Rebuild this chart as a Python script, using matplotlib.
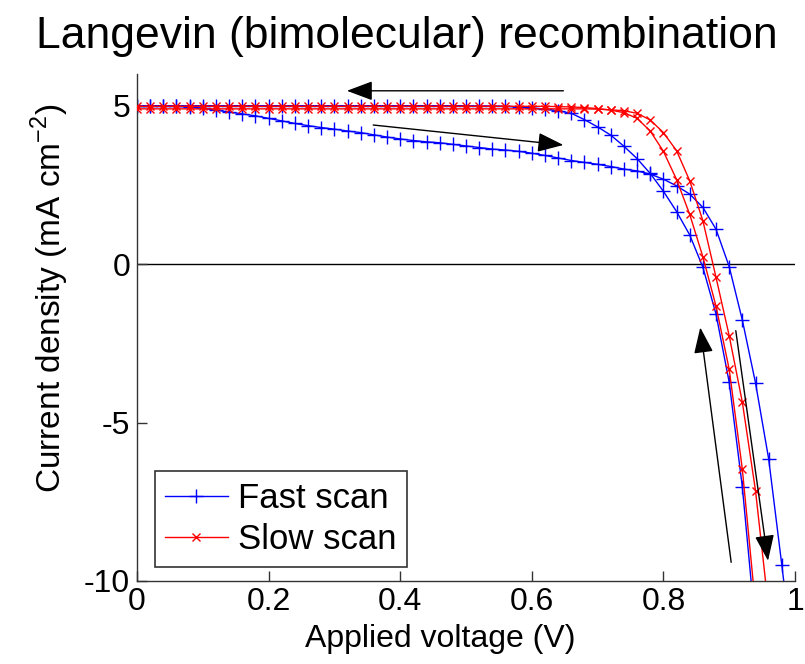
import matplotlib
matplotlib.use("Agg")
import matplotlib.pyplot as plt
import numpy as np

plt.rcParams['font.family'] = ['Liberation Sans', 'DejaVu Sans']

# ---------------- data ----------------
title_text = "Langevin (bimolecular) recombination"
xlabel_text = "Applied voltage (V)"
ylabel_text = r"Current density (mA cm$^{\mathregular{-2}}$)"
legend_labels = ["Fast scan", "Slow scan"]

x_ticks = [0, 0.2, 0.4, 0.6, 0.8, 1.0]
x_ticklabels = ["0", "0.2", "0.4", "0.6", "0.8", "1"]
y_ticks = [-10, -5, 0, 5]
y_ticklabels = ["-10", "-5", "0", "5"]

# voltage grid (V), 0.02 V steps
voltage = [0.00, 0.02, 0.04, 0.06, 0.08, 0.10, 0.12, 0.14, 0.16, 0.18,
           0.20, 0.22, 0.24, 0.26, 0.28, 0.30, 0.32, 0.34, 0.36, 0.38,
           0.40, 0.42, 0.44, 0.46, 0.48, 0.50, 0.52, 0.54, 0.56, 0.58,
           0.60, 0.62, 0.64, 0.66, 0.68, 0.70, 0.72, 0.74, 0.76, 0.78,
           0.80, 0.82, 0.84, 0.86, 0.88, 0.90, 0.92, 0.94, 0.96, 0.98,
           1.00]

# fast scan, forward sweep (0 -> 1 V)
fast_forward = [5.00, 5.00, 4.99, 4.98, 4.96, 4.92, 4.86, 4.80, 4.74, 4.68,
                4.60, 4.52, 4.44, 4.37, 4.31, 4.26, 4.20, 4.15, 4.08, 4.01,
                3.95, 3.90, 3.86, 3.83, 3.78, 3.73, 3.68, 3.63, 3.60, 3.56,
                3.50, 3.43, 3.35, 3.27, 3.21, 3.15, 3.08, 3.00, 2.94, 2.84,
                2.68, 2.47, 2.21, 1.79, 1.10, -0.08, -1.77, -3.75, -6.15, -9.50,
                -13.0]
# fast scan, reverse sweep (1 -> 0 V)
fast_reverse = [5.00, 5.00, 5.00, 5.00, 5.00, 5.00, 5.00, 5.00, 5.00, 5.00,
                5.00, 5.00, 5.00, 5.00, 5.00, 5.00, 5.00, 5.00, 5.00, 5.00,
                5.00, 5.00, 5.00, 5.00, 5.00, 5.00, 4.99, 4.99, 4.98, 4.96,
                4.93, 4.89, 4.84, 4.76, 4.56, 4.33, 4.07, 3.72, 3.33, 2.86,
                2.30, 1.66, 0.92, -0.10, -1.58, -3.73, -7.04, -11.5, -16.0, -21.0,
                -26.0]
# slow scan, forward sweep
slow_forward = [4.90, 4.90, 4.90, 4.90, 4.90, 4.90, 4.90, 4.90, 4.90, 4.90,
                4.90, 4.90, 4.90, 4.90, 4.90, 4.90, 4.90, 4.90, 4.90, 4.90,
                4.90, 4.90, 4.90, 4.90, 4.90, 4.90, 4.90, 4.90, 4.90, 4.90,
                4.90, 4.90, 4.90, 4.90, 4.90, 4.89, 4.87, 4.84, 4.76, 4.55,
                4.15, 3.58, 2.63, 1.37, -0.42, -2.26, -4.36, -7.15, -10.9, -15.0,
                -19.0]
# slow scan, reverse sweep
slow_reverse = [4.98, 4.98, 4.98, 4.98, 4.98, 4.98, 4.98, 4.98, 4.98, 4.98,
                4.98, 4.98, 4.98, 4.98, 4.98, 4.98, 4.98, 4.98, 4.98, 4.98,
                4.98, 4.98, 4.98, 4.98, 4.98, 4.98, 4.98, 4.98, 4.98, 4.98,
                4.98, 4.98, 4.97, 4.96, 4.94, 4.91, 4.86, 4.78, 4.60, 4.20,
                3.56, 2.67, 1.57, 0.23, -1.33, -3.32, -6.48, -10.8, -15.0, -19.0,
                -23.0]

# scan direction arrows: (tail_x, tail_y, head_x, head_y)
arrows = [
    (0.648, 5.47, 0.319, 5.47),
    (0.359, 4.39, 0.648, 3.76),
    (0.903, -9.41, 0.856, -2.00),
    (0.910, -2.10, 0.959, -9.36),
]

# ---------------- figure ----------------
W, H = 805, 664
fig = plt.figure(figsize=(W / 100, H / 100), dpi=100)
ax = fig.add_axes([137 / W, 83 / H, 658 / W, 507 / H])

blue = (0, 0, 1)
red = (1, 0, 0)

ax.axhline(0, color='k', lw=1.0, zorder=1)

v = np.array(voltage)
ax.plot(v, fast_forward, color=blue, lw=1.0, marker='+', ms=10, mew=1.0,
        label=legend_labels[0], zorder=2)
ax.plot(v, fast_reverse, color=blue, lw=1.0, marker='+', ms=10, mew=1.0,
        zorder=2)
ax.plot(v, slow_forward, color=red, lw=1.0, marker='x', ms=6, mew=1.0,
        label=legend_labels[1], zorder=3)
ax.plot(v, slow_reverse, color=red, lw=1.0, marker='x', ms=6, mew=1.0,
        zorder=3)

for tx, ty, hx, hy in arrows:
    ax.annotate("", xy=(hx, hy), xytext=(tx, ty),
                arrowprops=dict(arrowstyle="-|>,head_length=0.8,head_width=0.3",
                                color='k', lw=1.0, mutation_scale=20,
                                shrinkA=0, shrinkB=0),
                zorder=4)

ax.set_xlim(0, 1)
ax.set_ylim(-10, 6)
ax.set_xticks(x_ticks)
ax.set_xticklabels(x_ticklabels)
ax.set_yticks(y_ticks)
ax.set_yticklabels(y_ticklabels)

for s in ['top', 'right']:
    ax.spines[s].set_visible(False)
for s in ['left', 'bottom']:
    ax.spines[s].set_color('#333333')
    ax.spines[s].set_linewidth(1.0)

ax.tick_params(direction='in', length=7, width=1, colors='#333333',
               labelcolor='k', labelsize=23)
ax.tick_params(axis='x', pad=4)
ax.tick_params(axis='y', pad=5)

ax.set_xlabel(xlabel_text, fontsize=23)
ax.set_ylabel(ylabel_text, fontsize=24)
ax.xaxis.set_label_coords((440 - 137) / 658, -0.085, transform=ax.transAxes)
ax.yaxis.set_label_coords(-0.10, (581 - 298) / 507, transform=ax.transAxes)

leg = ax.legend(loc='lower left', bbox_to_anchor=(0.027, 0.028),
                borderaxespad=0, fontsize=25, frameon=True, fancybox=False,
                framealpha=1, edgecolor='#333333', handlelength=1.8,
                handletextpad=0.3, borderpad=0.3, labelspacing=0.25)
leg.get_frame().set_linewidth(1.2)

fig.text(407 / W, (H - 48) / H, title_text, ha='center', va='baseline',
         fontsize=32)

fig.savefig("out.png", dpi=100)
